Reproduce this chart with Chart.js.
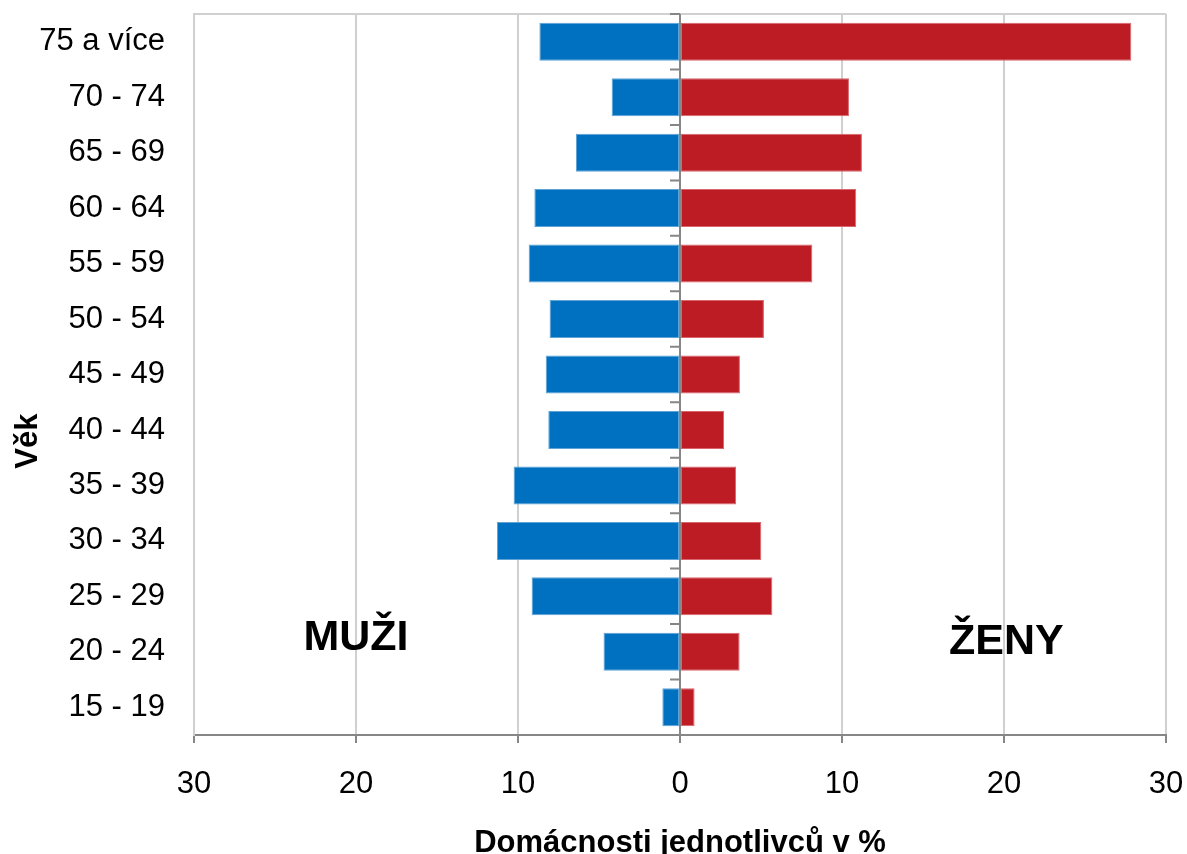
<!DOCTYPE html>
<html>
<head>
<meta charset="utf-8">
<script src="https://cdn.jsdelivr.net/npm/chart.js@4"></script>
<style>
  html, body { margin: 0; padding: 0; background: #fff; overflow: hidden; }
  #wrap { width: 1187px; height: 854px; }
</style>
</head>
<body>
<div id="wrap"><canvas id="chart"></canvas></div>
<script>
// age groups, top to bottom as in the picture
const ageGroups = ["75 a více", "70 - 74", "65 - 69", "60 - 64", "55 - 59", "50 - 54",
  "45 - 49", "40 - 44", "35 - 39", "30 - 34", "25 - 29", "20 - 24", "15 - 19"];
const menPct = [8.68, 4.22, 6.42, 8.99, 9.34, 8.05, 8.29, 8.13, 10.27, 11.3, 9.16, 4.72, 1.09];
const womenPct = [27.86, 10.43, 11.23, 10.88, 8.17, 5.18, 3.70, 2.72, 3.46, 5.02, 5.70, 3.68, 0.90];
const xTicks = [-30, -20, -10, 0, 10, 20, 30];

const FONT = "'Liberation Sans', Arial, sans-serif";
const gridGrey = "#d0d0d0";
const axisGrey = "#868686";

// top border, little ticks on the zero line and the text labels
const extras = {
  id: "extras",
  beforeDatasetsDraw(chart) {
    const { ctx, chartArea } = chart;
    ctx.save();
    ctx.strokeStyle = gridGrey;
    ctx.lineWidth = 2;
    ctx.beginPath();
    ctx.moveTo(chartArea.left, chartArea.top);
    ctx.lineTo(chartArea.right, chartArea.top);
    ctx.stroke();
    ctx.restore();
  },
  afterDatasetsDraw(chart) {
    const { ctx, chartArea, scales } = chart;
    const x0 = scales.x.getPixelForValue(0);
    const half = (scales.y.getPixelForValue(1) - scales.y.getPixelForValue(0)) / 2;
    ctx.save();
    ctx.strokeStyle = axisGrey;
    ctx.lineWidth = 2;
    ctx.beginPath();
    for (let i = 0; i < ageGroups.length; i++) {
      const yb = scales.y.getPixelForValue(i) - half;
      ctx.moveTo(x0 - 10, yb);
      ctx.lineTo(x0, yb);
    }
    ctx.moveTo(x0, chartArea.top);
    ctx.lineTo(x0, chartArea.bottom);
    ctx.stroke();

    ctx.fillStyle = "#000";
    ctx.textAlign = "center";
    ctx.textBaseline = "middle";
    ctx.font = "bold 43px " + FONT;
    const yLabel = scales.y.getPixelForValue(11);
    ctx.fillText("MUŽI", scales.x.getPixelForValue(-20), yLabel - 14);
    ctx.fillText("ŽENY", scales.x.getPixelForValue(20.15), yLabel - 10);

    ctx.font = "bold 31px " + FONT;
    ctx.translate(28, scales.y.getPixelForValue(7.2));
    ctx.rotate(-Math.PI / 2);
    ctx.fillText("Věk", 0, 0);
    ctx.restore();
  }
};

new Chart(document.getElementById("chart"), {
  type: "bar",
  data: {
    labels: ageGroups,
    datasets: [
      {
        label: "Muži",
        data: menPct.map((v) => -v),
        backgroundColor: "#0070c0",
        borderColor: "#5fa3d6",
        borderWidth: 1,
        borderSkipped: false,
      },
      {
        label: "Ženy",
        data: womenPct,
        backgroundColor: "#be1c24",
        borderColor: "#d9666c",
        borderWidth: 1,
        borderSkipped: false,
      },
    ],
  },
  options: {
    indexAxis: "y",
    responsive: true,
    maintainAspectRatio: false,
    animation: false,
    layout: { padding: { top: 14, right: 21, left: 0, bottom: 0 } },
    plugins: { legend: { display: false }, tooltip: { enabled: false } },
    datasets: { bar: { barPercentage: 0.685, categoryPercentage: 1 } },
    scales: {
      x: {
        stacked: true,
        min: -30,
        max: 30,
        afterBuildTicks: (scale) => {
          scale.ticks = xTicks.map((v) => ({ value: v }));
        },
        afterFit: (scale) => {
          scale.height = 119;
          scale.paddingLeft = 0;
          scale.paddingRight = 0;
        },
        grid: {
          color: (c) => (c.tick && c.tick.value === 0 ? axisGrey : gridGrey),
          lineWidth: 2,
          tickColor: axisGrey,
          tickLength: 8,
        },
        border: { color: axisGrey, width: 2 },
        ticks: {
          color: "#000",
          font: { family: FONT, size: 31 },
          padding: 23,
          maxRotation: 0,
          callback: (v) => Math.abs(v),
        },
        title: {
          display: true,
          text: "Domácnosti jednotlivců v %",
          color: "#000",
          font: { family: FONT, size: 31, weight: "bold", lineHeight: 1 },
          padding: { top: 0, bottom: -5 },
        },
      },
      y: {
        stacked: true,
        afterFit: (scale) => {
          scale.width = 194;
          scale.paddingTop = 0;
          scale.paddingBottom = 0;
        },
        grid: { display: false, drawTicks: false },
        border: { color: gridGrey, width: 2 },
        ticks: {
          color: "#000",
          font: { family: FONT, size: 31 },
          padding: 29,
        },
      },
    },
  },
  plugins: [extras],
});
</script>
</body>
</html>
